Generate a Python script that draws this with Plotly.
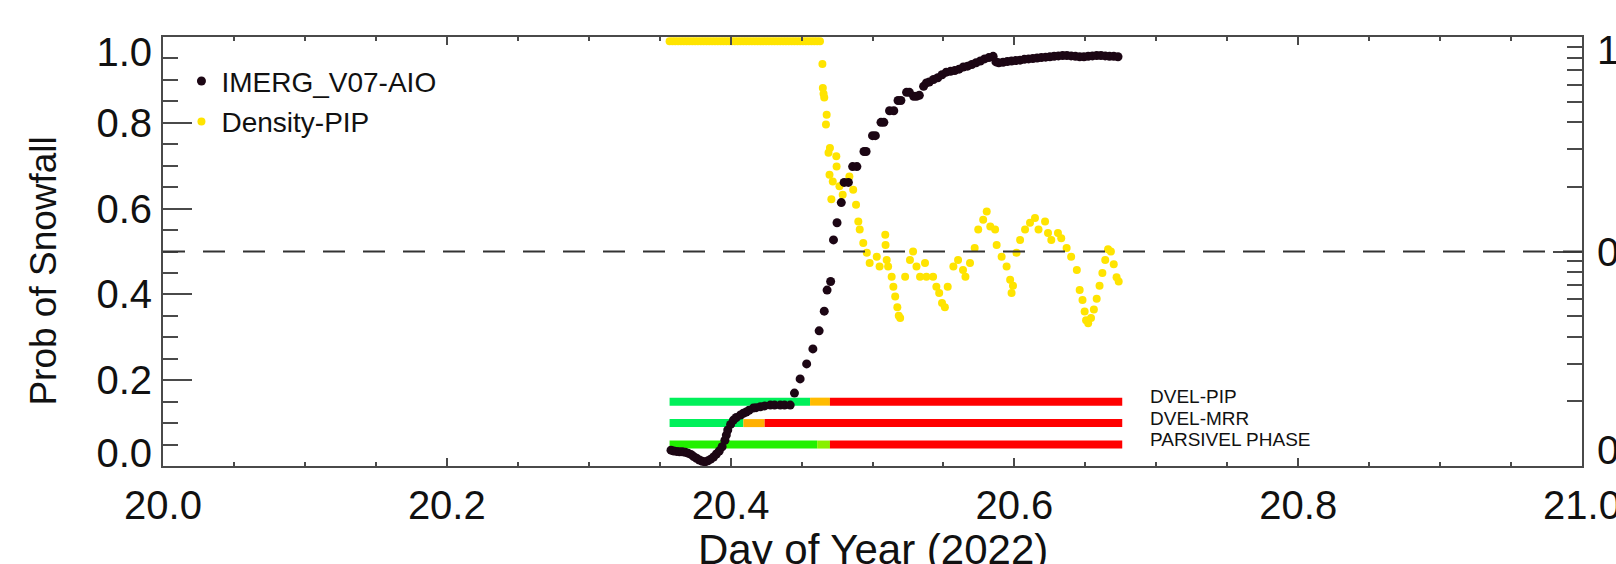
import plotly.graph_objects as go

# ---------------- data ----------------
IMERG_T = [20.358, 20.360, 20.362, 20.364, 20.366, 20.368, 20.370, 20.372, 20.374, 20.376,
           20.378, 20.380, 20.382, 20.384, 20.386, 20.388, 20.390, 20.392, 20.394, 20.396,
           20.397, 20.398, 20.400, 20.402, 20.404, 20.407, 20.409, 20.411, 20.413, 20.416,
           20.418, 20.421, 20.424, 20.428, 20.431, 20.435, 20.438, 20.442, 20.445, 20.449,
           20.4536, 20.458, 20.4624, 20.466, 20.468, 20.4705, 20.4725, 20.475, 20.478, 20.480,
           20.483, 20.486, 20.489, 20.494, 20.4955, 20.500, 20.502, 20.506, 20.508, 20.512,
           20.515, 20.518, 20.520, 20.524, 20.526, 20.529, 20.531, 20.533, 20.536, 20.538,
           20.540, 20.543, 20.546, 20.549, 20.552, 20.555, 20.558, 20.561, 20.564, 20.567,
           20.570, 20.573, 20.576, 20.579, 20.582, 20.585, 20.587, 20.589, 20.592, 20.595,
           20.598, 20.601, 20.604, 20.607, 20.610, 20.613, 20.616, 20.619, 20.622, 20.625,
           20.628, 20.631, 20.634, 20.637, 20.640, 20.643, 20.646, 20.649, 20.652, 20.655,
           20.658, 20.661, 20.664, 20.667, 20.670, 20.673]
IMERG_P = [0.037, 0.035, 0.034, 0.033, 0.033, 0.032, 0.030, 0.027, 0.022, 0.018,
           0.014, 0.011, 0.010, 0.012, 0.016, 0.021, 0.028, 0.035, 0.045, 0.060,
           0.072, 0.084, 0.097, 0.107, 0.113, 0.119, 0.123, 0.126, 0.130, 0.135,
           0.136, 0.138, 0.140, 0.142, 0.142, 0.142, 0.142, 0.142, 0.170, 0.203,
           0.238, 0.273, 0.315, 0.361, 0.410, 0.430, 0.527, 0.567, 0.614, 0.661,
           0.661, 0.698, 0.698, 0.733, 0.733, 0.770, 0.770, 0.801, 0.801, 0.828,
           0.828, 0.852, 0.852, 0.871, 0.871, 0.862, 0.862, 0.864, 0.885, 0.893,
           0.895, 0.901, 0.905, 0.912, 0.918, 0.920, 0.922, 0.925, 0.930, 0.932,
           0.936, 0.940, 0.944, 0.949, 0.952, 0.955, 0.942, 0.940, 0.941, 0.943,
           0.944, 0.945, 0.946, 0.948, 0.949, 0.950, 0.951, 0.952, 0.953, 0.954,
           0.955, 0.956, 0.957, 0.957, 0.956, 0.955, 0.954, 0.954, 0.955, 0.956,
           0.957, 0.957, 0.956, 0.955, 0.955, 0.954]

DENS_T = [20.357, 20.359, 20.361, 20.363, 20.365, 20.367, 20.369, 20.371, 20.373, 20.375,
          20.377, 20.379, 20.381, 20.383, 20.385, 20.387, 20.389, 20.391, 20.393, 20.395,
          20.397, 20.399, 20.401, 20.403, 20.405, 20.407, 20.409, 20.411, 20.413, 20.415,
          20.417, 20.419, 20.421, 20.423, 20.425, 20.427, 20.429, 20.431, 20.433, 20.435,
          20.437, 20.439, 20.441, 20.443, 20.445, 20.447, 20.449, 20.451, 20.453, 20.455,
          20.457, 20.459, 20.461, 20.463,
          20.4647, 20.4650, 20.4655, 20.4660, 20.4677, 20.4672, 20.4700, 20.4690, 20.4745, 20.4747,
          20.4697, 20.4720, 20.4767, 20.4710, 20.4790, 20.4837, 20.4864, 20.4884, 20.4900, 20.4910,
          20.4935, 20.4960, 20.4980, 20.5030, 20.5050, 20.5090, 20.5092, 20.5100, 20.5110, 20.5135,
          20.5147, 20.5160, 20.5175, 20.5185, 20.5195, 20.5230, 20.5264, 20.5286, 20.5310, 20.5335,
          20.5370, 20.5380, 20.5427, 20.5450, 20.5470, 20.5490, 20.5510, 20.5530, 20.5570, 20.5603,
          20.5638, 20.5655, 20.5687, 20.5720, 20.5745, 20.5780, 20.5805, 20.5830, 20.5864, 20.5875,
          20.5910, 20.5945, 20.5970, 20.5980, 20.5990, 20.6015, 20.6040, 20.6075, 20.6110, 20.6145,
          20.6170, 20.6216, 20.6237, 20.6260, 20.6307, 20.6330, 20.6368, 20.6400, 20.6440, 20.6460,
          20.6480, 20.6495, 20.6505, 20.6520, 20.6540, 20.6560, 20.6580, 20.6600, 20.6620, 20.6640,
          20.6660, 20.6680, 20.6700, 20.6720, 20.6735]
DENS_P = [0.99] * 54 + [
          0.937, 0.881, 0.868, 0.859, 0.819, 0.796, 0.741, 0.730, 0.722, 0.698,
          0.679, 0.663, 0.652, 0.622, 0.632, 0.675, 0.644, 0.609, 0.570, 0.551,
          0.520, 0.497, 0.473, 0.488, 0.465, 0.539, 0.515, 0.480, 0.465, 0.441,
          0.418, 0.395, 0.370, 0.350, 0.345, 0.441, 0.480, 0.500, 0.465, 0.441,
          0.473, 0.441, 0.441, 0.418, 0.403, 0.380, 0.370, 0.418, 0.465, 0.480,
          0.457, 0.441, 0.473, 0.508, 0.551, 0.574, 0.593, 0.558, 0.551, 0.515,
          0.488, 0.465, 0.434, 0.403, 0.420, 0.497, 0.527, 0.551, 0.567, 0.578,
          0.551, 0.570, 0.543, 0.527, 0.543, 0.531, 0.508, 0.488, 0.457, 0.410,
          0.387, 0.360, 0.340, 0.333, 0.345, 0.365, 0.390, 0.420, 0.450, 0.480,
          0.505, 0.500, 0.470, 0.440, 0.430]

THRESHOLD = 0.5

PHASE_ROWS = ["DVEL-PIP", "DVEL-MRR", "PARSIVEL PHASE"]
PHASE_LEVEL = [0.15, 0.10, 0.05]
PHASE_START = [[20.357, 20.456, 20.470],
               [20.357, 20.409, 20.424],
               [20.357, 20.461, 20.470]]
PHASE_END = [[20.456, 20.470, 20.676],
             [20.409, 20.424, 20.676],
             [20.461, 20.470, 20.676]]
PHASE_CLASS = [[0, 1, 2],
               [0, 1, 2],
               [0, 1, 2]]

X_TICKS = [20.0, 20.2, 20.4, 20.6, 20.8, 21.0]
Y_TICKS = [0.0, 0.2, 0.4, 0.6, 0.8, 1.0]
Y_TICK_TEXT = ["0.0", "0.2", "0.4", "0.6", "0.8", "1.0"]
R_TICKS = [0.01, 0.1, 1]
R_TICK_TEXT = ["0.01", "0.1", "1"]

# ---------------- style ----------------
FONT = "Liberation Sans, Arial, Helvetica, sans-serif"
AX = "#4a4a4a"
PHASE_COLORS = [
    {0: "#00f05a", 1: "#ffbb00", 2: "#ff0000"},
    {0: "#00f05a", 1: "#ffb000", 2: "#ff0000"},
    {0: "#22f000", 1: "#88f000", 2: "#ff0000"},
]

fig = go.Figure()

for r, name in enumerate(PHASE_ROWS):
    for s, e, c in zip(PHASE_START[r], PHASE_END[r], PHASE_CLASS[r]):
        fig.add_trace(go.Scatter(
            x=[s, e], y=[PHASE_LEVEL[r], PHASE_LEVEL[r]], mode="lines",
            line=dict(color=PHASE_COLORS[r][c], width=8), showlegend=False,
            hoverinfo="skip"))

fig.add_trace(go.Scatter(
    x=DENS_T, y=DENS_P, mode="markers", name="Density-PIP",
    marker=dict(color="#ffe400", size=8), legendgroup="b", legendrank=2))
fig.add_trace(go.Scatter(
    x=IMERG_T, y=IMERG_P, mode="markers", name="IMERG_V07-AIO",
    marker=dict(color="#1c0614", size=9), legendgroup="a", legendrank=1))

fig.add_hline(y=THRESHOLD, line=dict(color="#333333", width=2, dash="22px,18px"))

for r, name in enumerate(PHASE_ROWS):
    fig.add_annotation(x=20.694, y=PHASE_LEVEL[r], xref="x", yref="y", text=name,
                       showarrow=False, xanchor="left", yanchor="middle", yshift=5,
                       font=dict(family=FONT, size=19, color="#111"))

fig.add_annotation(x=-0.084, y=0.455, xref="paper", yref="paper", text="Prob of Snowfall",
                   textangle=-90, showarrow=False, xanchor="center", yanchor="middle",
                   font=dict(family=FONT, size=37, color="#111"))

fig.add_annotation(x=0.5, y=-0.135, xref="paper", yref="paper", text="Day of Year (2022)",
                   showarrow=False, xanchor="center", yanchor="top",
                   font=dict(family=FONT, size=42, color="#111"))

fig.update_layout(
    width=1616, height=564,
    margin=dict(l=163, r=34, t=37, b=98, autoexpand=False),
    paper_bgcolor="white", plot_bgcolor="white",
    font=dict(family=FONT, color="#111"),
    legend=dict(x=0.013, y=0.955, xanchor="left", yanchor="top",
                font=dict(size=28, family=FONT), bgcolor="rgba(0,0,0,0)",
                traceorder="grouped", tracegroupgap=1, itemwidth=30),
    xaxis=dict(range=[20, 21], tickvals=X_TICKS, tickformat=".1f", automargin=False,
               ticks="inside", ticklen=8, tickwidth=1.5, tickcolor=AX,
               minor=dict(dtick=0.05, tick0=20, ticks="inside", ticklen=4, tickcolor=AX),
               showline=True, linecolor=AX, linewidth=2, mirror="ticks",
               showgrid=False, zeroline=False, tickfont=dict(size=40, family=FONT),
               ticklabelstandoff=3, ticklabeloverflow="allow"),
    yaxis=dict(range=[0, 1], tickvals=Y_TICKS, showticklabels=False, automargin=False,
               ticks="inside", ticklen=29, tickwidth=1.5, tickcolor=AX,
               minor=dict(dtick=0.05, tick0=0, ticks="inside", ticklen=15, tickcolor=AX),
               showline=True, linecolor=AX, linewidth=2, mirror=False,
               showgrid=False, zeroline=False),
    yaxis3=dict(range=[0, 1], overlaying="y", side="left", automargin=False,
                tickvals=[0.03, 0.2, 0.4, 0.6, 0.8, 0.966], ticktext=Y_TICK_TEXT,
                ticks="", showline=False, showgrid=False, zeroline=False,
                tickfont=dict(size=40, family=FONT), ticklabelstandoff=10),
    yaxis2=dict(type="log", range=[-2, 0], overlaying="y", side="right", automargin=False,
                tickvals=R_TICKS, showticklabels=False,
                ticks="inside", ticklen=29, tickwidth=1.5, tickcolor=AX,
                minor=dict(tickvals=[0.02, 0.03, 0.04, 0.05, 0.06, 0.07, 0.08, 0.09,
                                     0.2, 0.3, 0.4, 0.5, 0.6, 0.7, 0.8, 0.9],
                           ticks="inside", ticklen=15, tickcolor=AX),
                showline=True, linecolor=AX, linewidth=2,
                showgrid=False, zeroline=False),
    yaxis4=dict(range=[0, 1], overlaying="y", side="right", automargin=False,
                tickvals=[0.037, 0.5, 0.97], ticktext=R_TICK_TEXT,
                ticks="", showline=False, showgrid=False, zeroline=False,
                tickfont=dict(size=40, family=FONT), ticklabelstandoff=14,
                ticklabeloverflow="allow"),
)

# invisible anchor traces so overlay axes are drawn
fig.add_trace(go.Scatter(x=[20.0], y=[0.5], yaxis="y3", mode="markers",
                         marker=dict(opacity=0), showlegend=False, hoverinfo="skip"))
fig.add_trace(go.Scatter(x=[20.0], y=[0.5], yaxis="y2", mode="markers",
                         marker=dict(opacity=0), showlegend=False, hoverinfo="skip"))
fig.add_trace(go.Scatter(x=[20.0], y=[0.5], yaxis="y4", mode="markers",
                         marker=dict(opacity=0), showlegend=False, hoverinfo="skip"))

fig.write_html("out.html")
